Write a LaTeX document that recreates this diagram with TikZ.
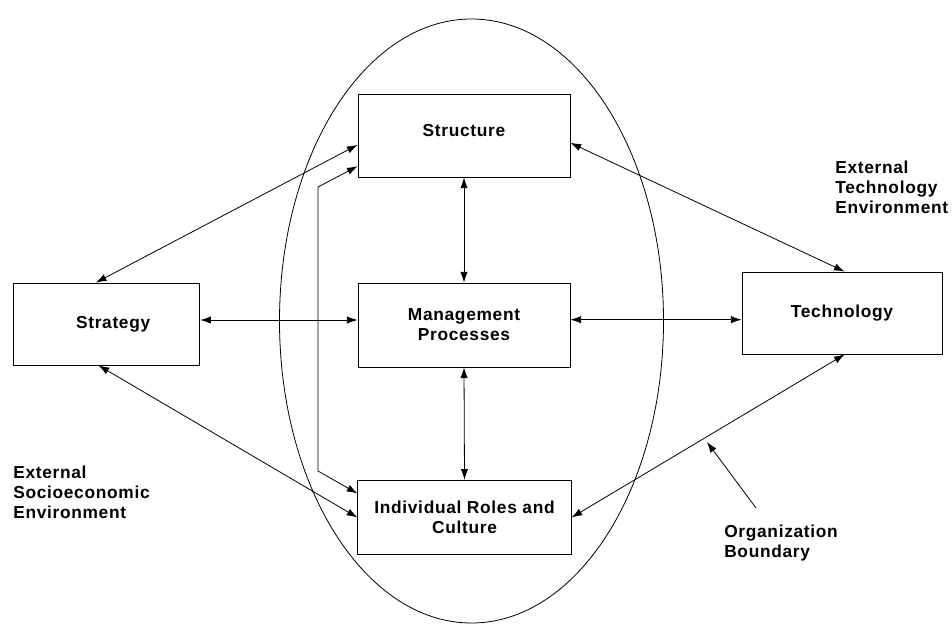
\documentclass[tikz,border=0pt]{standalone}
\usepackage{fontspec}
\setmainfont{Liberation Sans}[LetterSpace=4]
\usetikzlibrary{arrows.meta,shapes.geometric}

\begin{document}
\begin{tikzpicture}[
    x=0.75pt, y=-0.75pt,
    >=Latex,
    block/.style={
        rectangle,
        draw,
        semithick,
        align=center,
        inner sep=2pt,
        font=\bfseries\fontsize{13}{15}\selectfont
    },
    note/.style={
        align=left,
        inner sep=0pt,
        anchor=north west,
        font=\bfseries\fontsize{13}{15}\selectfont
    },
    boundary/.style={
        ellipse,
        draw,
        semithick,
        inner sep=0pt
    },
    link/.style={{Latex[length=8pt,width=5.5pt]}-{Latex[length=8pt,width=5.5pt]}, semithick},
    pointer/.style={-{Latex[length=8pt,width=5.5pt]}, semithick}
]
\useasboundingbox (0,0) rectangle (952,624);

% --- Frontera de la organizacion ---
\node[boundary, minimum width=288pt, minimum height=453pt] (org) at (471.5,321) {};

% --- Bloques ---
\node[block, minimum width=159pt, minimum height=62.25pt] (structure) at (464,135.5) {\raisebox{8pt}{Structure}};
\node[block, minimum width=159pt, minimum height=63pt] (mgmt) at (464,325) {Management\\Processes};
\node[block, minimum width=160pt, minimum height=56pt] (roles) at (464.5,517.5) {Individual Roles and\\Culture};
\node[block, minimum width=140pt, minimum height=61.5pt] (strategy) at (106.5,324) {\hspace*{10pt}Strategy};
\node[block, minimum width=150pt, minimum height=61.5pt] (technology) at (842,313) {Technology};

% --- Textos del entorno ---
\node[note] (techenv) at (835,161) {External\\Technology\\Environment};
\node[note] (socioenv) at (13,466) {External\\Socioeconomic\\Environment};
\node[note] (orgtext) at (724,525) {Organization\\Boundary};

% --- Puntos auxiliares ---
\coordinate (bendtop) at (318,187);
\coordinate (bendbot) at (318,471);
\coordinate (orgtail) at (756,508);
\coordinate (orgtip) at (707,442);

% --- Flechas ---
\draw[link] ([xshift=-8pt]strategy.north) -- ([yshift=-7pt]structure.west);
\draw[link] ([yshift=-23pt]structure.west) -- (bendtop) -- (bendbot) -- ([yshift=18pt]roles.west);
\draw[link] ([xshift=-6pt]strategy.south) -- (roles.west);
\draw[link] ([yshift=3pt]strategy.east) -- ([yshift=3pt]strategy.east -| mgmt.west);
\draw[link] (structure.south) -- (mgmt.north);
\draw[link] (mgmt.south) -- (roles.north);
\draw[link] ([yshift=4pt]mgmt.east) -- ([yshift=4pt]mgmt.east -| technology.west);
\draw[link] ([yshift=-5.5pt]structure.east) -- ([xshift=2pt]technology.north);
\draw[link] (roles.east) -- ([xshift=2pt]technology.south);

% --- Indicador de la frontera ---
\draw[pointer] (orgtail) -- (orgtip);

\end{tikzpicture}
\end{document}
